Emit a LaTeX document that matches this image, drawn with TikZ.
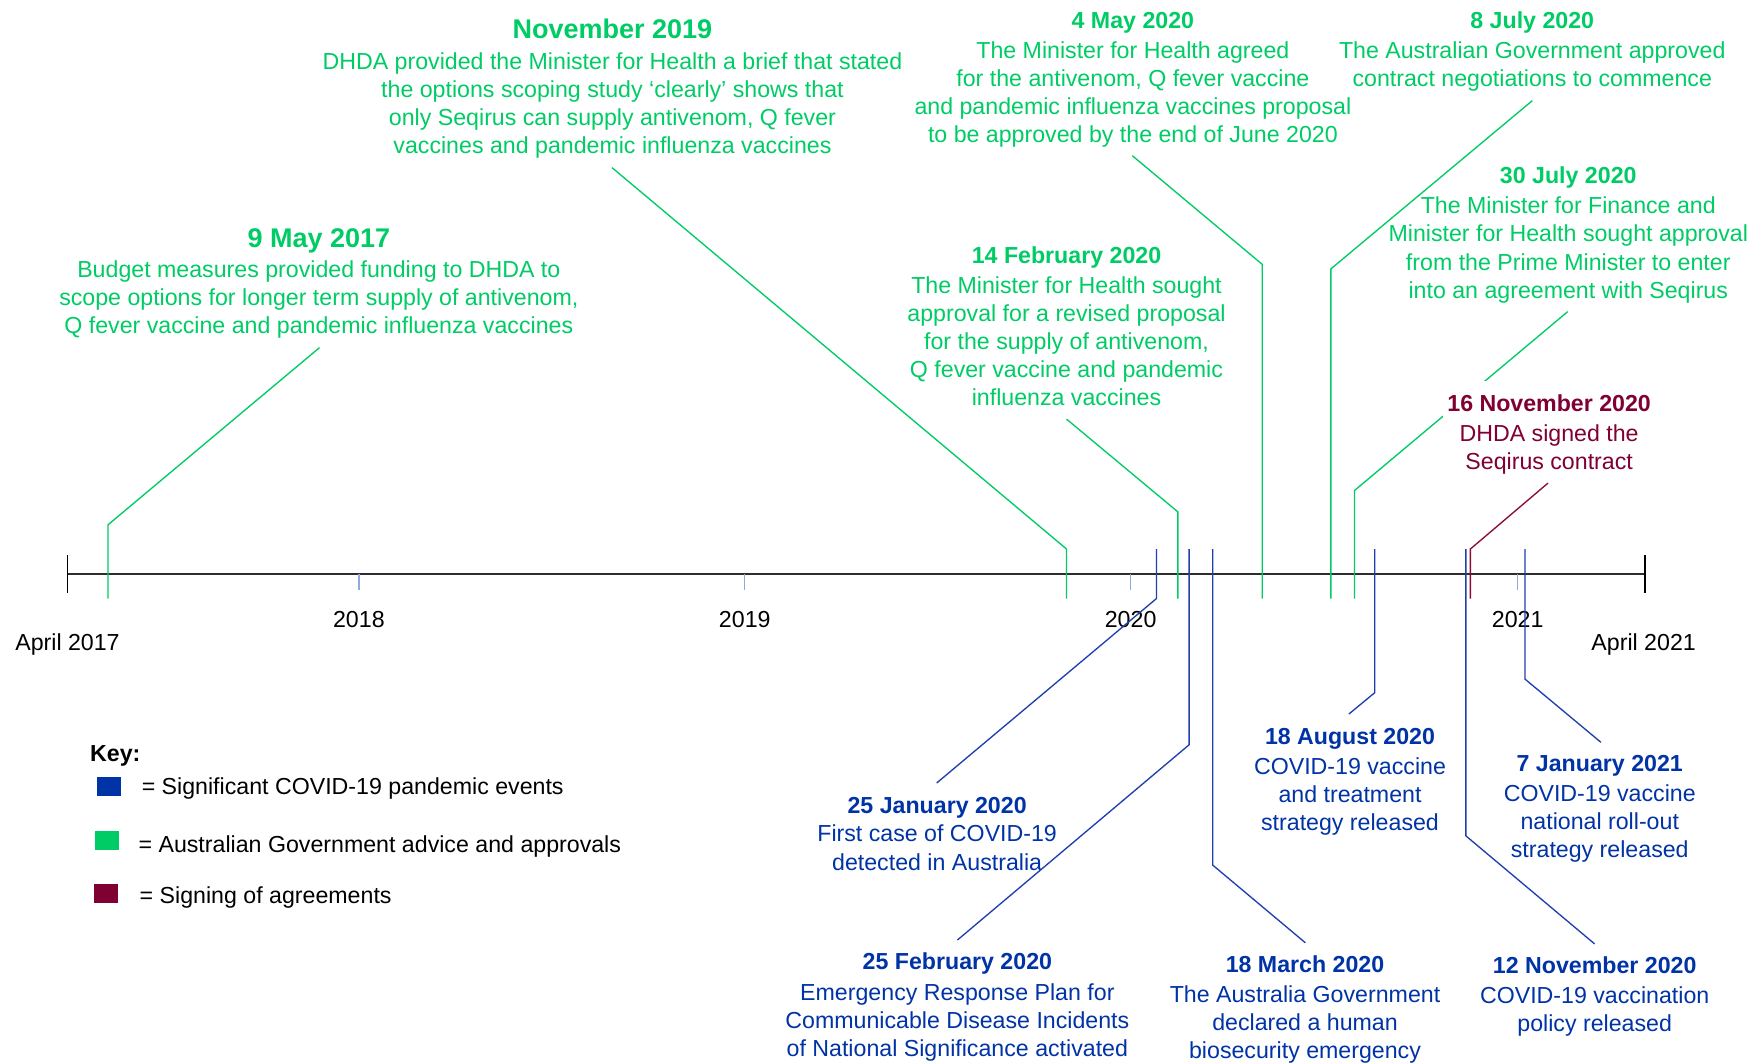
\documentclass[tikz,border=0pt]{standalone}
\usepackage{fontspec}
\setmainfont{Liberation Sans}
\definecolor{cgreen}{RGB}{0,204,102}
\definecolor{cblue}{RGB}{0,51,166}
\definecolor{cred}{RGB}{128,0,51}
\definecolor{lblue}{RGB}{32,64,176}
\definecolor{lred}{RGB}{140,10,60}
\definecolor{ctick}{RGB}{143,170,220}
\definecolor{caxis}{RGB}{45,45,45}
\newcommand{\evtbody}[1]{\begin{tabular}[t]{@{}c@{}}#1\end{tabular}}
\newcommand{\bigttl}[1]{{\fontsize{24}{25}\selectfont\bfseries #1}}
\tikzset{
  evt/.style={anchor=base, inner sep=0pt, font=\fontsize{20.6}{25}\selectfont},
  gtxt/.style={evt, text=cgreen},
  btxt/.style={evt, text=cblue},
  rtxt/.style={evt, text=cred},
  axlbl/.style={anchor=base, inner sep=0pt, font=\fontsize{20.6}{25}\selectfont, text=black},
  keytxt/.style={anchor=base west, inner sep=0pt, font=\fontsize{20.6}{25}\selectfont, text=black},
  keysq/.style={inner sep=0pt, minimum width=21pt, minimum height=16.5pt, draw=none},
  gline/.style={draw=cgreen, line width=1.2pt},
  bline/.style={draw=lblue, line width=1.2pt},
  rline/.style={draw=lred, line width=1.2pt},
  yeartick/.style={draw=ctick, line width=1.2pt},
  axisline/.style={draw=caxis, line width=1.6pt},
  endtick/.style={draw=black, line width=1.3pt}
}
\begin{document}
\begin{tikzpicture}[x=1pt,y=-1pt]
\useasboundingbox[fill=white] (0,0) rectangle (1568,945);

% ---- coordinates of connectors ----
\coordinate (g1a) at (96,532);   \coordinate (g1b) at (96,466.5);  \coordinate (g1c) at (284,309);
\coordinate (g2a) at (948,532);  \coordinate (g2b) at (948,488);   \coordinate (g2c) at (544,149);
\coordinate (g3a) at (1047,532); \coordinate (g3b) at (1047,455);  \coordinate (g3c) at (948,372.5);
\coordinate (g4a) at (1122,532); \coordinate (g4b) at (1122,235);  \coordinate (g4c) at (1006.5,138.4);
\coordinate (g5a) at (1183,532); \coordinate (g5b) at (1183,239);  \coordinate (g5c) at (1362,89.5);
\coordinate (g6a) at (1204,532); \coordinate (g6b) at (1204,436);  \coordinate (g6c) at (1393.5,277);
\coordinate (r1a) at (1307,532); \coordinate (r1b) at (1307,488);  \coordinate (r1c) at (1376,429.4);
\coordinate (b1a) at (1028,488); \coordinate (b1b) at (1028,532);  \coordinate (b1c) at (832.6,696);
\coordinate (b2a) at (1057,488); \coordinate (b2b) at (1057,662);  \coordinate (b2c) at (851,835.6);
\coordinate (b3a) at (1078,488); \coordinate (b3b) at (1078,769);  \coordinate (b3c) at (1160.3,838);
\coordinate (b4a) at (1222,488); \coordinate (b4b) at (1222,615.7);\coordinate (b4c) at (1199,634.7);
\coordinate (b5a) at (1303,488); \coordinate (b5b) at (1303,743);  \coordinate (b5c) at (1417.4,839);
\coordinate (b6a) at (1355.5,488); \coordinate (b6b) at (1355.5,603.6); \coordinate (b6c) at (1423,659.8);

% ---- axis ----
\coordinate (axL) at (60,510);
\coordinate (axR) at (1462,510);
\coordinate (y18) at (319,510);
\coordinate (y19) at (662,510);
\coordinate (y20) at (1005,510);
\coordinate (y21) at (1349,510);
\draw[axisline] (axL) -- (axR);
\draw[endtick] ([yshift=-17pt]axL) -- ([yshift=17pt]axL);
\draw[endtick] ([yshift=-17pt]axR) -- ([yshift=17pt]axR);
\foreach \t in {y18,y19,y20,y21} \draw[yeartick] (\t) -- ([yshift=-14pt]\t);

\node[axlbl] (lA17) at (60,578.4) {April 2017};
\node[axlbl] (l18) at (319,557.4) {2018};
\node[axlbl] (l19) at (662,557.4) {2019};
\node[axlbl] (l20) at (1005,557.4) {2020};
\node[axlbl] (l21) at (1349,557.4) {2021};
\node[axlbl] (lA21) at (1461,578.4) {April 2021};

% the 30 July line passes behind the 16 November text
\draw[gline] (g6a) -- (g6b) -- (g6c);

% ---- green events ----
\node[gtxt] (g1) at (283.4,219.6) {\evtbody{\bigttl{9 May 2017}\\[2.2pt]
  Budget measures provided funding to DHDA to\\
  scope options for longer term supply of antivenom,\\
  Q fever vaccine and pandemic influenza vaccines}};
\node[gtxt] (g2) at (544.4,34.6) {\evtbody{\bigttl{November 2019}\\[2pt]
  DHDA provided the Minister for Health a brief that stated\\
  the options scoping study ‘clearly’ shows that\\
  only Seqirus can supply antivenom, Q fever\\
  vaccines and pandemic influenza vaccines}};
\node[gtxt] (g3) at (948,234.1) {\evtbody{\textbf{14 February 2020}\\[1.7pt]
  The Minister for Health sought\\
  approval for a revised proposal\\
  for the supply of antivenom,\\
  Q fever vaccine and pandemic\\
  influenza vaccines}};
\node[gtxt] (g4) at (1007,25.2) {\evtbody{\textbf{4 May 2020}\\[1.7pt]
  The Minister for Health agreed\\
  for the antivenom, Q fever vaccine\\
  and pandemic influenza vaccines proposal\\
  to be approved by the end of June 2020}};
\node[gtxt] (g5) at (1362,25.2) {\evtbody{\textbf{8 July 2020}\\[1.7pt]
  The Australian Government approved\\
  contract negotiations to commence}};
\node[gtxt] (g6) at (1394,163.4) {\evtbody{\textbf{30 July 2020}\\[1.7pt]
  The Minister for Finance and\\
  Minister for Health sought approval\\
  from the Prime Minister to enter\\
  into an agreement with Seqirus}};

% ---- red event ----
\node[rtxt, fill=white, inner xsep=4pt, inner ysep=10pt] (r1) at (1377,365.9) {\evtbody{\textbf{16 November 2020}\\[1.7pt]
  DHDA signed the\\
  Seqirus contract}};

% ---- blue events ----
\node[btxt] (b1) at (833,723.4) {\evtbody{\textbf{25 January 2020}\\[0pt]
  First case of COVID-19\\
  detected in Australia}};
\node[btxt] (b2) at (851,862.2) {\evtbody{\textbf{25 February 2020}\\[1.7pt]
  Emergency Response Plan for\\
  Communicable Disease Incidents\\
  of National Significance activated}};
\node[btxt] (b3) at (1160,864.4) {\evtbody{\textbf{18 March 2020}\\[1.7pt]
  The Australia Government\\
  declared a human\\
  biosecurity emergency}};
\node[btxt] (b4) at (1200,661.4) {\evtbody{\textbf{18 August 2020}\\[1.7pt]
  COVID-19 vaccine\\
  and treatment\\
  strategy released}};
\node[btxt] (b5) at (1417.5,865.4) {\evtbody{\textbf{12 November 2020}\\[1.7pt]
  COVID-19 vaccination\\
  policy released}};
\node[btxt] (b6) at (1422,685.9) {\evtbody{\textbf{7 January 2021}\\[1.7pt]
  COVID-19 vaccine\\
  national roll-out\\
  strategy released}};

% ---- connectors ----
\draw[gline] (g1a) -- (g1b) -- (g1c);
\draw[gline] (g2a) -- (g2b) -- (g2c);
\draw[gline] (g3a) -- (g3b) -- (g3c);
\draw[gline] (g4a) -- (g4b) -- (g4c);
\draw[gline] (g5a) -- (g5b) -- (g5c);
\draw[rline] (r1a) -- (r1b) -- (r1c);
\draw[bline] (b1a) -- (b1b) -- (b1c);
\draw[bline] (b2a) -- (b2b) -- (b2c);
\draw[bline] (b3a) -- (b3b) -- (b3c);
\draw[bline] (b4a) -- (b4b) -- (b4c);
\draw[bline] (b5a) -- (b5b) -- (b5c);
\draw[bline] (b6a) -- (b6b) -- (b6c);

% ---- key ----
\node[keytxt] (keyttl) at (80,677) {\textbf{Key:}};
\node[keysq, fill=cblue] (ksq1) at (96.7,699.2) {};
\node[keysq, fill=cgreen] (ksq2) at (94.9,746.9) {};
\node[keysq, fill=cred] (ksq3) at (94.2,794.4) {};
\node[keytxt] (kt1) at (125.8,706.4) {= Significant COVID-19 pandemic events};
\node[keytxt] (kt2) at (123,757.4) {= Australian Government advice and approvals};
\node[keytxt] (kt3) at (124,803) {= Signing of agreements};
\end{tikzpicture}
\end{document}
